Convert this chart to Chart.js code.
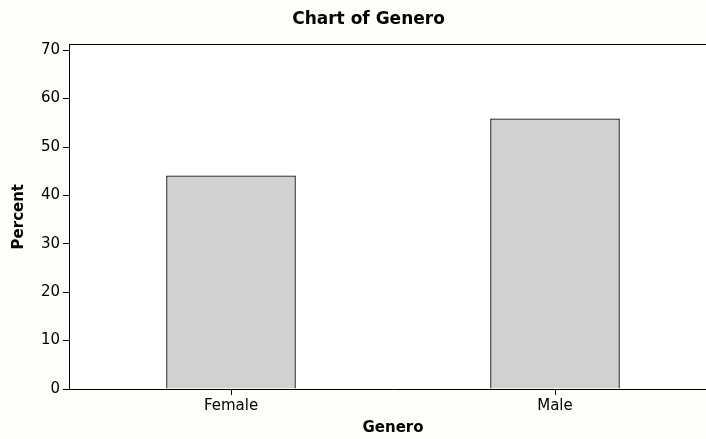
<!DOCTYPE html>
<html>
<head>
<meta charset="utf-8">
<script src="https://cdn.jsdelivr.net/npm/chart.js@4"></script>
<style>
  body { margin: 0; overflow: hidden; background: #fdfdf9; }
  #wrap { width: 737px; height: 439px; position: relative; }
</style>
</head>
<body>
<div id="wrap"><canvas id="genderChart"></canvas></div>
<script>
const categories = ["Female", "Male"];
const percents = [44.1, 55.9];
const yTicks = [0, 10, 20, 30, 40, 50, 60, 70];

const font = "DejaVu Sans";

// off-white page, white plot area, and the top/right frame lines
const frame = {
    id: "frame",
    beforeDraw(chart) {
        const c = chart.ctx;
        const a = chart.chartArea;
        c.save();
        c.fillStyle = "#fdfdf9";
        c.fillRect(0, 0, chart.width, chart.height);
        c.fillStyle = "#ffffff";
        c.fillRect(a.left, a.top, a.right - a.left, a.bottom - a.top);
        c.restore();
    },
    afterDraw(chart) {
        const c = chart.ctx;
        const a = chart.chartArea;
        c.save();
        c.strokeStyle = "#000";
        c.lineWidth = 1;
        c.beginPath();
        c.moveTo(a.left, Math.round(a.top) + 0.5);
        c.lineTo(a.right, Math.round(a.top) + 0.5);
        c.moveTo(Math.round(a.right) + 0.5, a.top);
        c.lineTo(Math.round(a.right) + 0.5, a.bottom);
        c.stroke();
        c.restore();
    }
};

new Chart(document.getElementById("genderChart"), {
    type: "bar",
    data: {
        labels: categories,
        datasets: [{
            data: percents,
            backgroundColor: "#d1d1d1",
            borderColor: "#000",
            borderWidth: 1.3,
            barPercentage: 0.4,
            categoryPercentage: 1
        }]
    },
    options: {
        responsive: true,
        maintainAspectRatio: false,
        animation: false,
        plugins: {
            legend: { display: false },
            tooltip: { enabled: false },
            title: {
                display: true,
                text: "Chart of Genero",
                color: "#000",
                font: { family: font, size: 17, weight: "bold" },
                padding: { top: 9, bottom: 15 }
            }
        },
        scales: {
            x: {
                grid: { display: true, offset: false, drawOnChartArea: false, drawTicks: true, tickLength: 6, color: "#000" },
                border: { display: true, color: "#000", width: 1 },
                ticks: { color: "#000", font: { family: font, size: 15 }, padding: 2 },
                title: {
                    display: true,
                    text: "Genero",
                    color: "#000",
                    font: { family: font, size: 15, weight: "bold" },
                    padding: 2
                },
                afterFit(scale) { scale.height = 50; }
            },
            y: {
                min: 0,
                max: 71.2,
                afterBuildTicks(axis) {
                    axis.ticks = yTicks.map(v => ({ value: v }));
                },
                grid: { display: true, drawOnChartArea: false, drawTicks: true, tickLength: 6, color: "#000" },
                border: { display: true, color: "#000", width: 1 },
                ticks: { color: "#000", font: { family: font, size: 15 }, padding: 3 },
                title: {
                    display: true,
                    text: "Percent",
                    color: "#000",
                    font: { family: font, size: 15, weight: "bold" },
                    padding: 10
                },
                afterFit(scale) { scale.width = 69; }
            },
            // empty right margin so the plot runs past the window edge
            yRight: {
                position: "right",
                display: true,
                grid: { display: false },
                border: { display: false },
                ticks: { display: false },
                afterFit(scale) { scale.width = 20; }
            }
        }
    },
    plugins: [frame]
});
</script>
</body>
</html>
